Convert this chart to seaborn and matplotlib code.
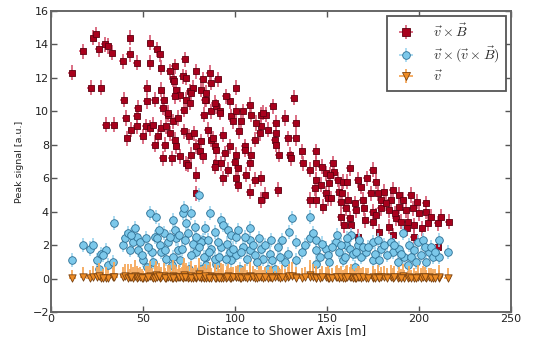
import matplotlib
matplotlib.use("Agg")
import matplotlib.pyplot as plt
import pandas as pd
import seaborn as sns
from matplotlib.lines import Line2D

# ---- v x B polarisation: distance [m] and peak signal [a.u.] ----
vxb_dist = [
    11.2, 17.2, 21.5, 22.9, 24.4, 25.9, 27.3, 29.3, 30.7, 32.9,
    29.7, 34.3, 38.9, 39.7, 40.5, 42.8, 43.0, 46.5, 47.0, 41.4,
    43.7, 46.5, 46.5, 50.0, 51.5, 53.7, 55.5, 56.4, 58.2, 60.0,
    60.6, 62.7, 63.6, 64.5, 65.5, 67.2, 68.1, 70.0, 72.1, 73.6,
    74.8, 76.3, 77.5, 79.0, 80.8, 82.6, 85.3, 87.1, 88.9, 89.8,
    54.0, 57.3, 59.1, 60.0, 54.0, 67.2, 72.7, 79.0, 64.5, 66.3,
    71.7, 73.6, 68.1, 70.0, 67.2, 75.4, 77.2, 81.7, 84.4, 86.8,
    90.7, 84.4, 73.6, 75.4, 72.1, 83.0, 87.1, 89.8, 60.0, 56.4,
    61.3, 60.9, 63.6, 51.9, 51.9, 66.7, 76.3, 83.5, 88.9, 97.1,
    92.0, 98.0, 100.7, 104.3, 98.9, 108.8, 114.3, 117.0, 114.3, 113.3,
    110.6, 93.3, 97.1, 105.2, 100.7, 91.6, 115.1, 120.6, 126.9, 133.2,
    122.0, 122.0, 88.0, 121.5, 128.7, 132.9, 122.4, 105.2, 89.8, 94.4,
    100.7, 108.5, 123.6, 129.6, 136.5, 143.7, 130.5, 136.8, 144.1, 92.6,
    99.8, 107.9, 88.9, 96.1, 101.6, 105.7, 140.5, 149.5, 93.4, 100.7,
    110.6, 114.3, 144.1, 101.6, 143.2, 107.9, 123.3, 116.1, 114.3, 140.5,
    144.1, 149.5, 150.4, 79.0, 79.0, 62.0, 66.0, 69.0, 74.5, 81.5,
    154.0, 151.3, 155.7, 158.6, 160.7, 162.5, 166.7, 174.8, 152.3, 146.5,
    157.6, 161.2, 164.9, 169.4, 173.9, 177.5, 181.1, 185.6, 189.3, 179.3,
    184.7, 195.6, 203.7, 160.3, 165.8, 170.3, 174.8, 179.3, 183.8, 189.3,
    192.9, 196.5, 200.1, 203.7, 206.4, 210.0, 216.0, 157.6, 162.2, 170.8,
    174.8, 187.5, 190.2, 193.8, 197.4, 201.8, 163.1, 178.4, 183.8, 166.7,
    210.0, 103.4, 107.9, 82.5, 86.2, 95.0, 102.0, 111.5, 118.0, 131.8,
    147.0, 153.0, 156.5, 168.5, 171.5, 176.5, 182.0, 187.0, 191.5, 199.0,
    193.5, 205.0, 212.0, 186.0, 197.0, 176.5, 159.0, 148.0, 151.5, 158.0,
]
vxb_peak = [
    12.3, 13.6, 11.4, 14.4, 14.6, 13.7, 11.4, 14.0, 13.9, 13.5,
    9.2, 9.2, 13.0, 10.7, 9.6, 13.4, 14.4, 12.9, 10.2, 8.4,
    8.9, 9.1, 9.7, 8.5, 9.1, 9.0, 9.2, 8.0, 8.5, 9.0,
    7.2, 9.1, 9.8, 8.7, 7.2, 8.3, 7.9, 7.3, 8.8, 6.9,
    8.5, 7.4, 8.7, 7.9, 7.6, 7.3, 8.9, 8.3, 7.9, 6.9,
    14.1, 13.7, 13.4, 12.6, 12.9, 12.7, 13.1, 12.4, 12.4, 11.9,
    12.1, 12.0, 11.3, 11.0, 10.9, 11.2, 11.4, 11.3, 11.1, 11.7,
    11.9, 10.7, 10.7, 10.5, 10.1, 9.8, 10.0, 10.3, 11.3, 10.7,
    10.7, 10.2, 9.9, 11.4, 10.6, 11.8, 11.1, 10.7, 10.5, 10.6,
    10.0, 9.7, 10.0, 10.0, 9.4, 9.8, 9.8, 9.8, 9.1, 8.7,
    8.3, 8.6, 7.9, 7.9, 11.4, 9.9, 9.9, 10.3, 9.6, 9.3,
    9.3, 8.7, 8.4, 8.3, 8.4, 8.4, 8.0, 7.7, 7.7, 7.5,
    7.4, 7.4, 7.4, 7.4, 7.6, 7.6, 7.2, 6.9, 6.9, 6.9,
    7.0, 6.9, 6.7, 6.5, 6.6, 6.2, 6.5, 6.3, 6.0, 6.0,
    5.9, 6.0, 5.9, 5.6, 5.4, 5.2, 5.3, 5.0, 4.7, 4.7,
    4.7, 5.1, 4.8, 5.1, 6.2, 8.0, 9.4, 9.6, 6.8, 8.2,
    6.4, 5.7, 5.9, 5.8, 5.8, 6.6, 5.9, 6.5, 4.8, 5.6,
    4.6, 4.7, 4.5, 4.7, 5.1, 5.1, 5.2, 5.3, 5.0, 4.7,
    4.7, 5.0, 4.5, 4.2, 4.1, 4.2, 4.0, 4.2, 4.1, 4.3,
    4.1, 4.2, 3.9, 4.0, 3.7, 3.3, 3.4, 3.7, 3.6, 3.5,
    3.4, 3.6, 3.4, 3.4, 3.2, 3.0, 3.2, 2.8, 3.1, 2.5,
    1.9, 9.4, 10.4, 11.9, 12.3, 10.9, 8.8, 9.3, 8.9, 10.8,
    6.7, 6.9, 5.2, 5.5, 6.0, 5.8, 4.5, 3.9, 4.7, 4.6,
    3.0, 3.3, 3.7, 2.6, 2.5, 3.8, 3.2, 4.3, 6.2, 5.1,
]

# ---- antenna distances shared by the v x (v x B) and v polarisations ----
station_dist = [
    11.6, 17.5, 21.1, 22.9, 24.8, 27.1, 29.8, 26.2, 30.7, 33.5,
    34.3, 28.4, 39.2, 40.1, 41.9, 42.8, 44.3, 45.6, 46.5, 47.4,
    48.3, 50.0, 51.9, 51.5, 53.7, 54.6, 55.5, 56.9, 56.4, 57.7,
    59.1, 60.0, 61.3, 62.4, 63.6, 65.5, 66.3, 67.2, 68.1, 69.0,
    70.0, 71.7, 72.1, 73.6, 74.5, 75.0, 76.3, 77.2, 78.1, 79.0,
    80.3, 81.7, 82.6, 84.4, 86.2, 87.1, 88.9, 89.8, 81.7, 85.3,
    92.6, 93.4, 96.1, 98.0, 100.7, 107.9, 107.9, 92.6, 97.1, 100.7,
    104.3, 107.9, 110.6, 114.3, 115.2, 118.8, 123.3, 83.0, 88.9, 84.4,
    98.0, 102.5, 117.8, 121.5, 126.9, 128.7, 129.2, 131.0, 132.9, 133.2,
    136.5, 140.5, 140.8, 142.2, 144.1, 144.1, 144.1, 149.5, 150.4, 151.3,
    154.9, 156.7, 158.5, 160.3, 162.2, 163.1, 163.9, 164.9, 166.7, 168.5,
    171.2, 174.8, 174.8, 177.5, 179.3, 181.1, 184.7, 185.6, 188.4, 189.3,
    191.1, 192.0, 193.8, 194.7, 197.4, 199.2, 201.0, 201.9, 203.7, 205.5,
    207.3, 210.6, 210.9, 215.5, 43.5, 49.5, 52.8, 58.5, 62.0, 64.8,
    66.0, 69.5, 71.0, 72.8, 75.8, 78.8, 80.5, 83.8, 85.8, 90.5,
    91.5, 94.8, 95.5, 99.0, 101.8, 103.0, 105.5, 106.5, 109.5, 112.0,
    113.0, 116.5, 119.5, 120.0, 124.5, 125.5, 138.0, 146.0, 147.5, 152.5,
    155.5, 157.5, 159.5, 161.0, 165.5, 167.5, 169.5, 172.5, 176.0, 178.0,
    182.5, 186.5, 190.0, 195.5, 198.5, 203.0, 206.5, 208.5,
]
vxvxb_peak = [
    1.1, 2.0, 1.8, 2.0, 1.1, 1.5, 1.7, 0.6, 0.8, 1.0,
    3.3, 1.4, 2.0, 2.4, 2.7, 1.7, 2.2, 3.0, 2.5, 1.7,
    2.2, 1.1, 0.7, 2.4, 3.9, 1.6, 1.0, 3.7, 2.5, 2.4,
    2.0, 1.6, 2.7, 1.2, 2.2, 0.8, 3.5, 2.9, 2.4, 1.7,
    1.1, 3.9, 4.2, 3.3, 2.7, 0.6, 3.9, 2.1, 3.1, 1.6,
    5.0, 0.6, 2.3, 1.3, 3.9, 1.8, 2.8, 0.9, 2.2, 2.3,
    3.5, 3.2, 2.9, 2.6, 2.5, 3.0, 2.3, 1.9, 1.6, 1.4,
    1.9, 1.7, 1.4, 1.8, 1.2, 1.5, 1.9, 1.3, 1.2, 0.8,
    1.1, 0.6, 0.6, 0.6, 1.0, 1.5, 2.8, 3.6, 2.2, 1.1,
    1.6, 3.7, 2.4, 2.7, 2.3, 1.7, 0.9, 1.8, 1.4, 1.0,
    2.2, 1.6, 1.1, 2.0, 1.8, 2.6, 1.5, 0.7, 2.0, 1.3,
    1.6, 1.1, 2.2, 2.3, 1.8, 2.0, 2.2, 1.6, 1.0, 1.8,
    2.7, 1.3, 0.8, 2.0, 1.7, 2.2, 1.4, 2.3, 1.0, 1.6,
    1.3, 1.3, 2.3, 1.6, 2.6, 1.4, 1.9, 2.9, 1.7, 2.5,
    1.3, 2.6, 1.8, 2.3, 1.4, 2.5, 1.9, 3.0, 1.6, 2.2,
    1.3, 1.2, 2.1, 1.8, 2.9, 1.6, 2.5, 1.2, 2.0, 1.0,
    2.4, 2.0, 2.3, 1.1, 1.3, 2.3, 2.0, 1.3, 2.1, 1.9,
    2.6, 2.0, 1.3, 2.4, 1.6, 2.3, 1.9, 1.9, 1.5, 1.1,
    1.4, 2.0, 1.5, 1.3, 1.0, 1.9, 1.9, 1.6,
]
v_peak = [
    0.05, 0.10, 0.02, 0.08, 0.12, 0.04, 0.06, 0.15, 0.03, 0.09,
    0.11, 0.05, 0.07, 0.13, 0.02, 0.10, 0.06, 0.18, 0.04, 0.08,
    0.12, 0.03, 0.09, 0.05, 0.14, 0.07, 0.01, 0.20, 0.06, 0.10,
    0.04, 0.08, 0.13, 0.02, 0.11, 0.05, 0.16, 0.09, 0.03, 0.07,
    0.10, 0.06, 0.22, 0.12, 0.04, 0.08, 0.15, 0.02, 0.09, 0.05,
    0.25, 0.03, 0.11, 0.07, 0.14, 0.06, 0.10, 0.02, 0.08, 0.12,
    0.09, 0.05, 0.13, 0.04, 0.07, 0.18, 0.11, 0.03, 0.06, 0.10,
    0.08, 0.12, 0.05, 0.09, 0.02, 0.07, 0.11, 0.04, 0.06, 0.03,
    0.10, 0.02, 0.05, 0.08, 0.04, 0.09, 0.14, 0.17, 0.07, 0.03,
    0.06, 0.19, 0.12, 0.10, 0.08, 0.05, 0.02, 0.07, 0.04, 0.03,
    0.09, 0.06, 0.04, 0.08, 0.07, 0.12, 0.05, 0.02, 0.10, 0.06,
    0.05, 0.03, 0.09, 0.11, 0.07, 0.08, 0.10, 0.06, 0.02, 0.07,
    0.13, 0.04, 0.02, 0.08, 0.06, 0.09, 0.05, 0.11, 0.03, 0.07,
    0.05, 0.04, 0.10, 0.06, 0.12, 0.05, 0.08, 0.14, 0.06, 0.09,
    0.04, 0.11, 0.07, 0.09, 0.05, 0.10, 0.08, 0.13, 0.06, 0.09,
    0.05, 0.04, 0.08, 0.07, 0.12, 0.06, 0.10, 0.03, 0.08, 0.04,
    0.09, 0.07, 0.08, 0.04, 0.05, 0.10, 0.07, 0.05, 0.08, 0.06,
    0.11, 0.08, 0.05, 0.09, 0.06, 0.08, 0.07, 0.06, 0.05, 0.03,
    0.06, 0.08, 0.05, 0.04, 0.03, 0.07, 0.06, 0.05,
]
# upper uncertainty of the v signal
v_err_up = [
    0.45, 0.60, 0.50, 0.70, 0.55, 0.40, 0.65, 0.80, 0.50, 0.60,
    0.90, 0.55, 0.60, 0.75, 0.85, 0.50, 0.65, 0.95, 0.70, 0.55,
    0.60, 0.45, 0.50, 0.70, 0.90, 0.55, 0.40, 0.85, 0.75, 0.65,
    0.55, 0.60, 0.80, 0.45, 0.70, 0.40, 0.95, 0.75, 0.65, 0.50,
    0.55, 0.85, 1.00, 0.80, 0.70, 0.40, 0.90, 0.60, 0.75, 0.55,
    1.00, 0.45, 0.65, 0.50, 0.85, 0.60, 0.75, 0.45, 0.60, 0.70,
    0.85, 0.80, 0.75, 0.65, 0.70, 0.80, 0.65, 0.60, 0.55, 0.50,
    0.60, 0.70, 0.55, 0.65, 0.50, 0.60, 0.65, 0.50, 0.55, 0.45,
    0.50, 0.40, 0.45, 0.40, 0.55, 0.60, 0.75, 0.85, 0.60, 0.50,
    0.55, 0.90, 0.70, 0.75, 0.65, 0.55, 0.45, 0.60, 0.70, 0.55,
    0.65, 0.60, 0.50, 0.70, 0.60, 0.75, 0.55, 0.45, 0.65, 0.60,
    0.60, 0.50, 0.65, 0.70, 0.60, 0.65, 0.70, 0.55, 0.45, 0.60,
    0.75, 0.50, 0.45, 0.65, 0.55, 0.70, 0.60, 0.65, 0.50, 0.55,
    0.55, 0.50, 0.70, 0.60, 0.75, 0.50, 0.65, 0.80, 0.60, 0.70,
    0.55, 0.70, 0.65, 0.70, 0.55, 0.70, 0.65, 0.75, 0.60, 0.70,
    0.55, 0.50, 0.65, 0.60, 0.70, 0.55, 0.75, 0.50, 0.65, 0.45,
    0.65, 0.60, 0.65, 0.55, 0.50, 0.70, 0.60, 0.55, 0.65, 0.60,
    0.70, 0.65, 0.55, 0.70, 0.60, 0.65, 0.60, 0.55, 0.50, 0.45,
    0.60, 0.65, 0.55, 0.50, 0.45, 0.60, 0.55, 0.50,
]

series_labels = [r"$\vec{v}\times\vec{B}$",
                 r"$\vec{v}\times(\vec{v}\times\vec{B})$",
                 r"$\vec{v}$"]
x_ticks = [0, 50, 100, 150, 200, 250]
y_ticks = [-2, 0, 2, 4, 6, 8, 10, 12, 14, 16]

sns.set_style("ticks")
plt.rcParams["font.family"] = ["DejaVu Sans"]
plt.rcParams["mathtext.fontset"] = "cm"

fig = plt.figure(figsize=(5.49, 3.40), dpi=100)
ax = fig.add_axes([0.093, 0.082, 0.838, 0.886])

df_vxb = pd.DataFrame({"dist": vxb_dist, "peak": vxb_peak})
df_st = pd.DataFrame({"dist": station_dist, "vxvxb": vxvxb_peak,
                      "v": v_peak, "v_up": v_err_up})

styles = [
    dict(marker="s", face="#a8001c", edge="#5e0010", bar="#d4566f", s=24),
    dict(marker="o", face="#7cc8ea", edge="#2b6e93", bar="#9fd6ef", s=30),
    dict(marker="v", face="#ef8c24", edge="#7a4210", bar="#f6a85a", s=28),
]

# v x B
eb0 = ax.errorbar(df_vxb["dist"], df_vxb["peak"], xerr=2.0, yerr=0.45,
                  fmt="none", ecolor=styles[0]["bar"], elinewidth=1.2, zorder=2)
sns.scatterplot(data=df_vxb, x="dist", y="peak", marker=styles[0]["marker"],
                s=styles[0]["s"], color=styles[0]["face"],
                edgecolor=styles[0]["edge"], linewidth=0.6, ax=ax,
                legend=False, zorder=3)

# v x (v x B)
eb1 = ax.errorbar(df_st["dist"], df_st["vxvxb"], xerr=2.0, yerr=0.42,
                  fmt="none", ecolor=styles[1]["bar"], elinewidth=1.2, zorder=4)
sns.scatterplot(data=df_st, x="dist", y="vxvxb", marker=styles[1]["marker"],
                s=styles[1]["s"], color=styles[1]["face"],
                edgecolor=styles[1]["edge"], linewidth=0.6, ax=ax,
                legend=False, zorder=5)

# v
eb2 = ax.errorbar(df_st["dist"], df_st["v"], xerr=2.0,
                  yerr=[[0.12] * len(df_st), df_st["v_up"]],
                  fmt="none", ecolor=styles[2]["bar"], elinewidth=1.3, zorder=6)
sns.scatterplot(data=df_st, x="dist", y="v", marker=styles[2]["marker"],
                s=styles[2]["s"], color=styles[2]["face"],
                edgecolor=styles[2]["edge"], linewidth=0.6, ax=ax,
                legend=False, zorder=7)

ax.set_xlim(0, 250)
ax.set_ylim(-2, 16)
ax.set_xticks(x_ticks)
ax.set_yticks(y_ticks)
ax.set_xlabel("Distance to Shower Axis [m]", fontsize=8.6, color="#222222",
              labelpad=0)
ax.set_ylabel("Peak signal [a.u.]", fontsize=6.8, color="#222222", labelpad=6)
ax.tick_params(direction="in", top=True, right=True, length=4, width=1,
               labelsize=8, colors="#555555", labelcolor="#222222", pad=1.5)
for sp in ax.spines.values():
    sp.set_visible(True)
    sp.set_color("#666666")
    sp.set_linewidth(1.4)

handles = []
for eb, st in zip([eb0, eb1, eb2], styles):
    mk = Line2D([], [], ls="none", marker=st["marker"],
                markersize=5.5, markerfacecolor=st["face"],
                markeredgecolor=st["edge"], markeredgewidth=0.6)
    handles.append((eb, mk))
leg = ax.legend(handles, series_labels, loc="upper right", fontsize=10,
                frameon=True, fancybox=False, framealpha=1,
                borderaxespad=0.35, handlelength=1.8, handletextpad=1.0,
                borderpad=0.5, labelspacing=0.35)
leg.get_frame().set_edgecolor("#555555")
leg.get_frame().set_linewidth(1.3)

fig.savefig("out.png", dpi=100)
